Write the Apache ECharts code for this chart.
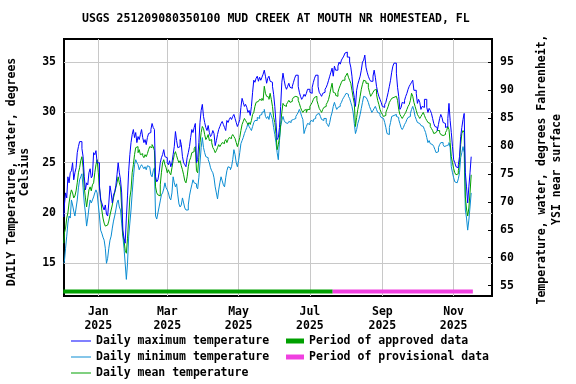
<!DOCTYPE html>
<html>
<head>
<meta charset="utf-8">
<script src="https://cdn.jsdelivr.net/npm/echarts@6/dist/echarts.min.js"></script>
<style>
  html, body { margin: 0; padding: 0; background: #fff; }
  #main { width: 576px; height: 384px; }
</style>
</head>
<body>
<div id="main"></div>
<script>
// daily values, first day 2024-12-02
var startDate = [2024, 11, 2]
var maxTemp = [
  19.6, 20.8, 22.0, 21.5, 23.6, 23.0, 24.0, 24.2, 25.0, 23.3,
  24.0, 24.5, 26.0, 26.6, 27.1, 27.1, 26.4, 25.6, 23.6, 22.3,
  23.0, 22.8, 24.0, 24.4, 23.5, 23.7, 26.0, 25.8, 26.2, 25.0,
  25.0, 22.7, 21.3, 21.0, 20.6, 20.3, 20.8, 19.9, 19.7, 21.0,
  22.7, 22.0, 21.0, 21.8, 22.1, 22.7, 23.8, 25.0, 24.0, 23.3,
  22.0, 18.3, 17.5, 17.0, 19.5, 21.7, 24.2, 25.8, 27.0, 27.8,
  28.3, 27.5, 28.0, 27.0, 27.6, 27.3, 27.8, 28.3, 27.5, 27.0,
  27.3, 26.8, 27.5, 27.9, 28.0, 28.3, 28.9, 28.5, 28.3, 23.6,
  23.1, 23.3, 24.0, 25.0, 25.5, 25.8, 26.3, 25.6, 25.5, 25.0,
  24.8, 25.2, 24.6, 25.0, 25.8, 26.6, 28.1, 27.2, 26.5, 26.6,
  27.3, 26.8, 25.6, 25.0, 24.8, 24.6, 25.5, 26.0, 26.6, 27.5,
  28.3, 28.0, 28.5, 28.9, 25.0, 25.3, 27.0, 29.0, 30.2, 30.8,
  29.6, 29.0, 28.5, 28.2, 28.7, 28.0, 27.6, 27.8, 28.2, 27.9,
  26.7, 27.2, 27.8, 28.3, 28.6, 28.9, 29.1, 28.8, 28.5, 28.2,
  29.2, 29.0, 29.3, 29.5, 29.3, 29.6, 29.8, 29.4, 29.0, 28.6,
  28.9, 29.3, 30.5, 31.4, 31.0, 30.6, 30.8, 30.5, 30.0, 30.2,
  29.7, 30.6, 32.0, 33.2, 33.0, 33.4, 33.6, 33.1, 33.5, 33.2,
  33.5, 33.8, 34.2, 33.6, 32.9, 33.4, 33.6, 33.1, 33.0, 32.6,
  31.8, 30.6, 29.0, 27.3, 27.5, 28.5, 30.6, 33.0, 33.9, 33.2,
  32.6, 32.3, 32.6, 32.9, 32.5, 32.4, 32.6, 33.0, 33.4, 33.7,
  33.7, 32.6, 32.0, 31.6, 31.3, 31.5, 31.8, 31.6, 31.9, 32.3,
  32.3, 32.0, 31.9, 32.5, 33.0, 33.4, 33.7, 33.7, 32.6, 32.0,
  31.8, 31.6, 31.9, 32.0, 32.3, 32.5, 32.8, 33.2, 33.6, 34.0,
  34.4, 33.6, 34.6, 34.2, 34.2, 34.6, 35.0, 34.8, 35.2, 35.4,
  35.6, 35.9, 36.0, 35.5, 35.5, 35.0, 34.5, 33.6, 32.2, 31.5,
  30.6, 32.2, 32.8, 33.2, 33.6, 34.2, 35.0, 35.2, 35.7, 34.5,
  34.0, 33.6, 33.3, 33.1, 33.1, 33.6, 34.2, 33.5, 32.6, 32.0,
  31.6, 31.3, 31.0, 30.6, 30.5, 30.8, 31.0, 31.5, 32.0, 32.6,
  33.2, 34.0, 34.6, 34.9, 34.9, 33.9, 32.5, 31.6, 30.3, 30.5,
  31.0, 30.9, 31.2, 31.6, 31.9, 32.3, 32.6, 32.8, 33.0, 33.2,
  32.2, 32.2, 31.9, 30.9, 31.3, 31.0, 30.3, 30.6, 30.5, 31.3,
  31.3, 30.5, 30.0, 30.4, 30.2, 29.9, 29.4, 28.9, 28.6, 28.5,
  28.2, 28.8, 29.4, 29.8, 29.5, 29.0, 28.9, 28.5, 28.6, 29.4,
  30.9, 29.2, 28.0, 26.6, 25.3, 25.0, 24.6, 24.5, 24.8, 25.6,
  27.6, 28.5, 29.3, 29.9, 24.0, 22.6, 21.0, 22.6, 24.0, 25.6
]
var meanTemp = [
  17.0, 18.0, 18.5, 19.5, 20.0, 21.0, 21.8, 22.3, 22.0, 21.5,
  21.7, 22.2, 23.0, 24.0, 24.5, 25.2, 25.6, 24.5, 22.5, 21.5,
  20.6, 21.5, 22.3, 22.6, 22.2, 22.8, 23.0, 24.0, 24.8, 25.3,
  24.0, 22.5, 21.5, 20.3, 19.5, 19.0, 18.7, 18.8, 18.7, 19.2,
  19.8, 20.3, 20.8, 21.5, 22.0, 22.5, 23.0, 23.6, 23.0, 22.6,
  20.5, 17.8, 17.3, 16.3, 16.0, 17.5, 19.5, 21.5, 22.3, 24.0,
  24.8, 25.8, 26.5, 26.6, 26.0, 26.3, 25.8, 25.9, 25.7, 25.5,
  25.8, 25.6, 25.9, 26.3, 26.6, 26.5, 26.8, 26.6, 26.2, 22.6,
  22.0, 21.8, 21.7, 22.8, 24.0, 25.0, 25.3, 24.8, 24.5, 24.0,
  24.3, 24.0, 23.8, 24.5, 25.2, 25.8, 26.1, 25.7, 25.3, 25.0,
  25.2, 24.7, 24.3, 23.8, 23.2, 23.0, 23.6, 24.6, 25.2, 25.5,
  26.0, 26.1, 26.4, 26.6, 24.2, 24.0, 25.5, 27.0, 28.0, 28.6,
  28.4, 27.8, 27.3, 27.5, 27.8, 27.2, 27.3, 27.0, 26.5, 26.3,
  26.0, 26.2, 26.5, 26.8, 26.6, 26.8, 27.0, 26.9, 27.1, 27.3,
  27.0, 27.3, 27.5, 27.4, 27.6, 27.8, 27.6, 27.4, 27.0, 26.6,
  27.0, 27.5, 28.2, 28.8, 29.1, 29.4, 29.2, 29.0, 28.8, 29.0,
  28.8, 29.2, 29.8, 30.0, 30.6, 31.0, 31.1, 31.0, 31.3, 31.2,
  31.4, 31.2, 32.6, 31.9, 31.6, 31.5, 31.3, 31.9, 31.3, 30.6,
  29.5, 29.0, 27.9, 26.3, 26.8, 27.5, 28.8, 30.0, 30.9, 30.7,
  30.6, 30.8, 31.0, 31.2, 31.0, 31.1, 31.3, 31.5, 31.6, 31.7,
  31.5, 31.2, 30.9, 30.5, 30.2, 30.0, 30.2, 30.3, 30.0, 30.3,
  30.3, 30.6, 30.8, 31.0, 31.3, 31.5, 31.6, 31.2, 30.8, 30.4,
  30.2, 30.0, 30.3, 30.5, 30.6, 30.8, 31.0, 31.3, 31.8, 32.4,
  32.9, 32.0, 31.9, 31.7, 31.6, 32.0, 32.4, 32.7, 33.0, 33.2,
  33.2, 33.5, 33.7, 33.9, 33.5, 33.2, 32.9, 32.2, 31.5, 30.9,
  28.6, 29.5, 30.3, 30.9, 31.6, 32.3, 32.8, 33.2, 33.1, 32.9,
  32.9, 32.5, 32.0, 31.6, 31.8, 32.0, 32.2, 32.3, 31.8, 31.2,
  30.8, 30.3, 30.0, 29.8, 29.6, 29.7, 30.0, 30.3, 30.6, 31.0,
  31.2, 31.4, 31.5, 31.6, 31.6, 31.6, 31.2, 30.3, 29.8, 29.6,
  29.4, 29.6, 29.8, 30.0, 30.3, 30.6, 30.8, 31.2, 31.9, 31.6,
  31.0, 30.6, 30.2, 29.8, 29.6, 29.4, 29.6, 29.8, 30.0, 29.7,
  29.4, 29.2, 29.0, 28.9, 28.6, 28.4, 28.2, 27.9, 28.0, 28.1,
  28.2, 28.2, 28.0, 27.8, 27.7, 27.6, 27.8, 28.0, 28.2, 28.6,
  28.3, 27.0, 25.6, 25.0, 24.4, 24.0, 23.8, 23.9, 24.2, 25.0,
  26.8, 27.9, 28.2, 28.0, 21.6, 20.4, 19.7, 20.5, 22.0, 23.8
]
var minTemp = [
  15.0, 15.2, 16.5, 17.7, 19.0, 19.7, 19.5, 21.3, 20.8, 20.2,
  19.7, 20.5, 21.3, 22.5, 23.3, 23.6, 23.9, 22.5, 21.0, 20.0,
  18.7, 19.5, 20.5, 21.3, 21.0, 21.3, 21.6, 22.0, 22.3, 22.0,
  20.8, 19.7, 18.3, 18.0, 17.6, 17.3, 16.5, 15.0, 15.5, 16.5,
  17.3, 17.7, 18.5, 19.2, 19.7, 20.3, 21.0, 21.3, 20.6, 20.3,
  19.0, 17.7, 16.5, 15.0, 13.4, 15.0, 17.7, 19.0, 20.3, 22.0,
  23.5, 24.8, 25.3, 25.0, 24.8, 24.3, 24.6, 24.8, 24.6, 24.4,
  24.6, 24.3, 24.7, 24.6, 24.6, 23.8, 23.6, 24.2, 24.5, 19.7,
  19.4, 20.0, 20.6, 21.2, 21.8, 22.0, 22.4, 23.0, 22.5, 22.3,
  22.0, 21.5, 21.3, 22.0, 23.6, 23.0, 22.6, 22.9, 21.8, 20.9,
  20.6, 20.8, 21.5, 21.0, 20.5, 20.3, 20.3, 20.8, 21.7, 22.3,
  22.8, 23.3, 23.0, 22.9, 22.6, 22.4, 23.5, 25.0, 26.5, 27.5,
  26.5, 26.0, 25.6, 25.5, 25.3, 25.0, 24.5, 24.2, 24.0, 23.5,
  22.6, 22.0, 21.4, 22.3, 23.0, 23.6, 23.2, 22.8, 22.6, 23.5,
  24.2, 24.6, 24.5, 24.3, 24.6, 25.3, 26.3, 25.8, 25.0, 24.6,
  25.2, 26.0, 26.9, 27.2, 27.5, 27.9, 28.2, 28.5, 28.9, 28.6,
  28.4, 28.2, 28.6, 29.0, 29.2, 29.2, 29.5, 29.4, 29.7, 29.8,
  30.0, 30.1, 30.3, 29.6, 29.4, 29.6, 29.3, 30.0, 29.7, 29.3,
  28.5, 27.8, 27.0, 26.0, 25.3, 27.2, 28.6, 29.2, 29.6, 29.2,
  29.0, 28.9, 29.0, 29.1, 29.0, 29.2, 29.3, 29.2, 29.4, 29.6,
  29.8, 30.0, 30.3, 30.0, 29.6, 29.3, 27.9, 28.3, 28.6, 28.9,
  28.8, 29.0, 29.2, 29.1, 29.3, 29.4, 29.6, 29.8, 29.9, 30.0,
  29.6, 29.3, 29.2, 29.4, 29.4, 29.0, 28.8, 28.6, 29.0, 29.6,
  30.0, 30.6, 31.0, 30.6, 30.3, 30.5, 30.6, 30.8, 31.0, 31.3,
  31.5, 31.7, 31.9, 31.8, 31.6, 31.4, 31.0, 30.6, 30.0, 28.9,
  27.9, 28.3, 28.9, 29.3, 29.8, 30.4, 31.0, 31.6, 31.5, 31.4,
  31.3, 31.0, 30.6, 30.3, 30.0, 30.2, 30.4, 30.6, 30.3, 30.0,
  29.9, 29.7, 29.5, 29.4, 29.3, 29.0, 28.5, 27.9, 27.8, 28.5,
  29.0, 29.6, 29.7, 29.8, 29.8, 29.6, 29.5, 29.3, 28.9, 28.5,
  28.3, 28.5, 28.8, 29.0, 29.3, 29.5, 29.6, 29.9, 30.3, 30.6,
  30.2, 29.6, 29.3, 29.0, 28.9, 28.8, 28.7, 28.6, 28.5, 28.3,
  28.0, 27.5, 27.0, 27.2, 26.9, 26.8, 26.7, 26.6, 26.3, 26.0,
  26.1, 26.5, 26.8, 27.0, 27.0, 26.8, 26.6, 26.7, 26.6, 26.8,
  27.0, 26.5, 24.6, 24.0, 23.5, 23.1, 23.0, 23.1, 23.4, 24.0,
  25.5, 26.0, 26.6, 26.0, 20.3, 19.5, 18.3, 19.3, 20.6, 22.0
]
// approval periods (start, end)
var approvedPeriod = [[2024, 11, 2], [2025, 6, 20, 12]]
var provisionalPeriod = [[2025, 6, 20, 12], [2025, 10, 17, 10]]
var periodLevel = 12.2

var celsiusTicks = [15, 20, 25, 30, 35]
var fahrenheitTicks = [55, 60, 65, 70, 75, 80, 85, 90, 95]
var monthTicks = [[2025, 0, 1], [2025, 2, 1], [2025, 4, 1], [2025, 6, 1], [2025, 8, 1], [2025, 10, 1]]
var monthLabels = ['Jan\n2025', 'Mar\n2025', 'May\n2025', 'Jul\n2025', 'Sep\n2025', 'Nov\n2025']

var DAY = 86400000
var ts = function (d) { return Date.UTC(d[0], d[1], d[2], d[3] || 0) }
var t0 = ts(startDate) + DAY / 2
var daily = function (arr) { return arr.map(function (v, i) { return [t0 + i * DAY, v] }) }
var monthTs = monthTicks.map(ts)
var jan1 = Date.UTC(2025, 0, 1)

var cMin = 11.75
var cMax = 37.3
var toF = function (c) { return c * 1.8 + 32 }

var font = 'DejaVu Sans Mono'
var txt = { fontFamily: font, fontSize: 11.5, fontWeight: 'bold', color: '#000' }

// one legend block per row, so nothing wraps
var legendRow = function (name, left, top, w, h) {
  return {
    left: left,
    top: top,
    padding: 0,
    itemWidth: w,
    itemHeight: h,
    icon: 'rect',
    textStyle: Object.assign({ lineHeight: 14 }, txt),
    data: [name]
  }
}

var myChart = echarts.init(document.getElementById('main'))
myChart.setOption({
  animation: false,
  backgroundColor: '#fff',
  title: {
    text: 'USGS 251209080350100 MUD CREEK AT MOUTH NR HOMESTEAD, FL',
    left: 82,
    top: 13,
    padding: 0,
    textStyle: txt
  },
  grid: {
    left: 64,
    right: 84,
    top: 39,
    bottom: 88,
    show: true,
    borderColor: '#000',
    borderWidth: 2,
    backgroundColor: 'transparent'
  },
  legend: [
    legendRow('Daily maximum temperature', 71, 334, 20, 1),
    legendRow('Daily minimum temperature', 71, 350, 20, 1),
    legendRow('Daily mean temperature', 71, 366, 20, 1),
    legendRow('Period of approved data', 286, 334, 18, 5),
    legendRow('Period of provisional data', 286, 350, 18, 5)
  ],
  xAxis: {
    type: 'value',
    min: jan1 - 29.34 * DAY,
    max: jan1 + 336.8 * DAY,
    axisLine: { show: false },
    axisTick: { show: false, customValues: monthTs },
    axisLabel: {
      customValues: monthTs,
      margin: 9,
      lineHeight: 14,
      fontFamily: font,
      fontSize: 11.5,
      fontWeight: 'bold',
      color: '#000',
      formatter: function (v) {
        var k = monthTs.indexOf(v)
        return k >= 0 ? monthLabels[k] : ''
      }
    },
    splitLine: { show: true, lineStyle: { color: '#c8c8c8', width: 1 } }
  },
  yAxis: [
    {
      type: 'value',
      min: cMin,
      max: cMax,
      axisLine: { show: false },
      axisTick: { show: false, customValues: celsiusTicks },
      axisLabel: {
        customValues: celsiusTicks,
        margin: 8,
        fontFamily: font,
        fontSize: 11.5,
        fontWeight: 'bold',
        color: '#000'
      },
      splitLine: { show: true, lineStyle: { color: '#c8c8c8', width: 1 } }
    },
    {
      type: 'value',
      position: 'right',
      min: toF(cMin),
      max: toF(cMax),
      axisLine: { show: false },
      axisTick: { show: true, inside: true, length: 4, customValues: fahrenheitTicks, lineStyle: { color: '#000', width: 1 } },
      axisLabel: {
        customValues: fahrenheitTicks,
        margin: 8,
        fontFamily: font,
        fontSize: 11.5,
        fontWeight: 'bold',
        color: '#000'
      },
      splitLine: { show: false }
    }
  ],
  graphic: [
    {
      type: 'text',
      x: 18.5,
      y: 172,
      rotation: Math.PI / 2,
      style: {
        text: 'DAILY Temperature, water, degrees\nCelsius',
        fontFamily: font,
        fontSize: 11.5,
        fontWeight: 'bold',
        lineHeight: 13,
        fill: '#000',
        align: 'center',
        verticalAlign: 'middle'
      }
    },
    {
      type: 'text',
      x: 549.5,
      y: 169.5,
      rotation: Math.PI / 2,
      style: {
        text: 'Temperature, water, degrees Fahrenheit,\nYSI near surface',
        fontFamily: font,
        fontSize: 11.5,
        fontWeight: 'bold',
        lineHeight: 15,
        fill: '#000',
        align: 'center',
        verticalAlign: 'middle'
      }
    }
  ],
  series: [
    {
      name: 'Period of approved data',
      type: 'line',
      color: '#00a000',
      symbol: 'none',
      lineStyle: { width: 4 },
      data: approvedPeriod.map(function (d) { return [ts(d), periodLevel] })
    },
    {
      name: 'Period of provisional data',
      type: 'line',
      color: '#f040e0',
      symbol: 'none',
      lineStyle: { width: 4 },
      data: provisionalPeriod.map(function (d) { return [ts(d), periodLevel] })
    },
    {
      name: 'Daily minimum temperature',
      type: 'line',
      color: '#0a8cd2',
      step: 'middle',
      symbol: 'none',
      lineStyle: { width: 1 },
      data: daily(minTemp)
    },
    {
      name: 'Daily mean temperature',
      type: 'line',
      color: '#00a000',
      step: 'middle',
      symbol: 'none',
      lineStyle: { width: 1 },
      data: daily(meanTemp)
    },
    {
      name: 'Daily maximum temperature',
      type: 'line',
      color: '#0000ff',
      step: 'middle',
      symbol: 'none',
      lineStyle: { width: 1 },
      data: daily(maxTemp)
    }
  ]
})
</script>
</body>
</html>
